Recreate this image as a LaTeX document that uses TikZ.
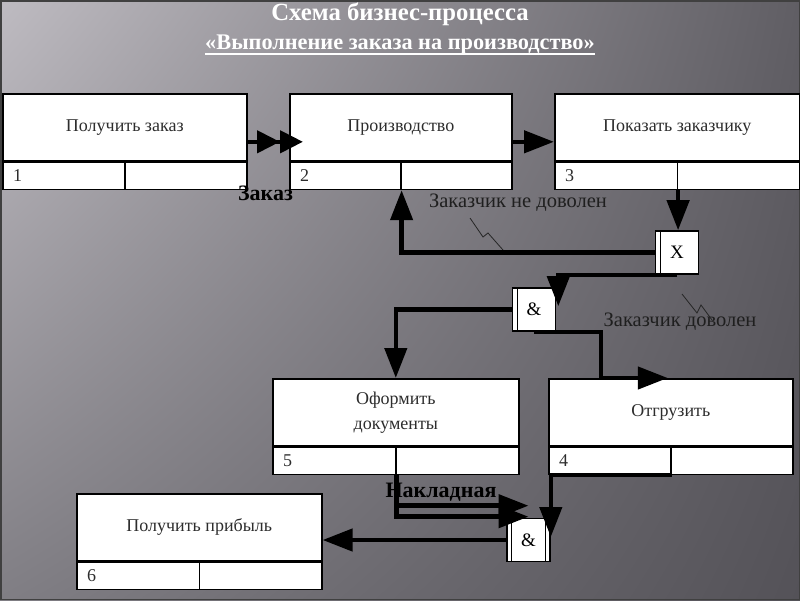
\documentclass[tikz,border=0pt]{standalone}
\usepackage{fontspec}
\setmainfont{Liberation Serif}
\usetikzlibrary{arrows.meta,positioning,calc,shadings}
\definecolor{bglight}{RGB}{190,187,193}
\definecolor{bgdark}{RGB}{96,94,100}
\definecolor{bgmid}{RGB}{128,126,132}
\definecolor{bgdeep}{RGB}{84,82,88}
\definecolor{inktext}{RGB}{45,45,45}
\tikzstyle{flow}=[draw=black,line width=4.5pt,-{Triangle[length=30pt,width=22pt]}]
\tikzstyle{flowtwo}=[flow,-{Triangle[length=23pt,width=22pt]Triangle[length=23pt,width=22pt]}]
\tikzstyle{proc}=[draw=black,line width=1.6pt,fill=white,minimum height=67pt,inner sep=0pt,align=center,text=inktext,font=\fontsize{18}{25}\selectfont]
\tikzstyle{numcell}=[draw=black,line width=1.6pt,fill=white,minimum height=27pt,inner sep=0pt]
\tikzstyle{numtext}=[inner sep=0pt,text=inktext,font=\fontsize{18}{20}\selectfont]
\tikzstyle{junction}=[draw=black,line width=1.6pt,fill=white,minimum size=43pt,inner sep=0pt,font=\fontsize{19}{22}\selectfont]
\tikzstyle{jbar}=[draw=black,line width=1.2pt]
\tikzstyle{note}=[inner sep=0pt,text=black!88,font=\fontsize{20.5}{24}\selectfont]
\tikzstyle{boldnote}=[inner sep=0pt,text=black,font=\fontsize{22}{26}\selectfont\bfseries]
\tikzstyle{titletext}=[inner sep=0pt,text=white,font=\fontsize{24.7}{28}\selectfont\bfseries]
\tikzstyle{subtitletext}=[inner sep=0pt,text=white,font=\fontsize{22.3}{26}\selectfont\bfseries]
\tikzstyle{squiggle}=[draw=black!85,line width=0.8pt]
\tikzstyle{frame}=[draw=black!75,line width=1.5pt]

% name, left x, top y, width, label, number
\newcommand{\procbox}[6]{%
  \node[proc, minimum width=#4pt, anchor=north west] (#1) at (#2,#3) {#5};
  \node[numcell, minimum width=#4pt/2, anchor=north west] (#1n) at (#1.south west) {};
  \node[numcell, minimum width=#4pt/2, anchor=north east] (#1r) at (#1.south east) {};
  \node[numtext, right=11pt of #1n.west] {#6};
}

\begin{document}
\begin{tikzpicture}[x=1pt,y=-1pt]
    \useasboundingbox (0,0) rectangle (800,600);
    \shade[upper left=bglight, upper right=bgdark, lower left=bgmid, lower right=bgdeep] (0,0) rectangle (800,600);
    \draw[frame] (0.75,0.75) rectangle (799.25,599.25);

    % title
    \node[titletext, anchor=base] (title) at (400,20) {Схема бизнес-процесса};
    \node[subtitletext, anchor=base] (subtitle) at (400,49) {«Выполнение заказа на производство»};
    \draw[white, line width=1.3pt] ([yshift=-5pt]subtitle.base west) -- ([yshift=-5pt]subtitle.base east);

    % units of behaviour
    \procbox{p1}{2}{93}{244}{Получить заказ}{1}
    \procbox{p2}{289}{93}{222}{Производство}{2}
    \procbox{p3}{554}{93}{245}{Показать заказчику}{3}
    \procbox{p5}{272}{378}{246}{Оформить\\документы}{5}
    \procbox{p4}{548}{378}{244}{Отгрузить}{4}
    \procbox{p6}{76}{493}{245}{Получить прибыль}{6}

    % junctions
    \node[junction] (jX) at (677,252.5) {X};
    \node[junction] (jA) at (534,309.5) {\&};
    \node[junction] (jB) at (528.5,540) {\&};
    \draw[jbar] ([xshift=6pt]jX.north west) -- ([xshift=6pt]jX.south west);
    \draw[jbar] ([xshift=6pt]jA.north west) -- ([xshift=6pt]jA.south west);
    \draw[jbar] ([xshift=5pt]jB.north west) -- ([xshift=5pt]jB.south west);
    \draw[jbar] ([xshift=-5pt]jB.north east) -- ([xshift=-5pt]jB.south east);

    % labels
    \node[boldnote] (lblorder) at (265.5,193) {Заказ};
    \node[note] (lblunhappy) at (518,203) {Заказчик не доволен};
    \node[note] (lblhappy) at (680,322) {Заказчик доволен};
    \node[boldnote] (lblinvoice) at (441,492) {Накладная};
    \draw[squiggle] (470,218) -- (483,237) -- (488,233) -- (503,250);
    \draw[squiggle] (682,294) -- (697,313) -- (701,305) -- (712,320);

    % links
    \draw[flowtwo, shorten >=-14pt] ([yshift=-14.5pt]p1.east) -- ([yshift=-14.5pt]p2.west);
    \draw[flow] ([yshift=-14.5pt]p2.east) -- ([yshift=-14.5pt]p3.west);
    \draw[flow] (p3n.south east) -- (p3n.south east |- jX.north);
    \draw[flow] (jX.west) -| (p2n.south east);
    \draw[flow] (jX.south) -| ([xshift=2pt,yshift=-19pt]jA.north east);
    \draw[flow] (jA.west) -| (p5.north);
    \draw[flow] (jA.south) -- ++(67pt,0) |- ([xshift=-3pt]p4.north);
    \draw[flow] (p5n.south east) |- ([yshift=12pt]jB.north);
    \draw[flow] (p5n.south east) |- ([yshift=1pt]jB.north);
    \draw[flow] (p4n.south east) -| ([yshift=3pt]jB.east);
    \draw[flow] (jB.west) -- (jB.west -| p6.east);
\end{tikzpicture}
\end{document}
